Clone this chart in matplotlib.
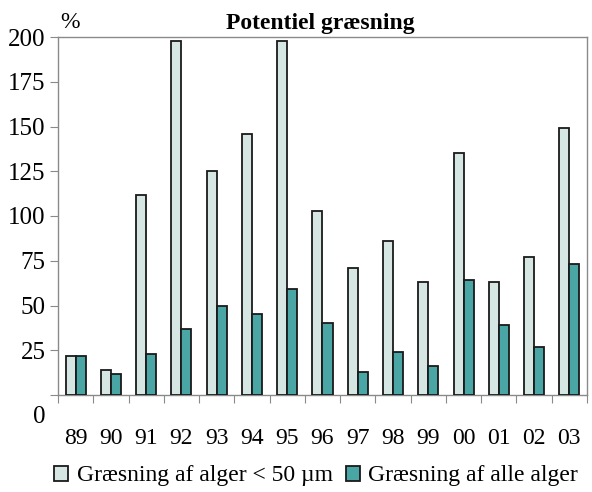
import matplotlib

matplotlib.use("Agg")
import matplotlib.pyplot as plt
import matplotlib.transforms as mtransforms
import numpy as np

years = ["89", "90", "91", "92", "93", "94", "95", "96", "97", "98",
         "99", "00", "01", "02", "03"]
small_algae = [22, 14, 112, 198, 125, 146, 198, 103, 71, 86, 63, 135, 63, 77, 149]
all_algae = [22, 12, 23, 37, 50, 45, 59, 40, 13, 24, 16, 64, 39, 27, 73]
labels = ["Græsning af alger < 50 µm", "Græsning af alle alger"]
y_ticks = [0, 25, 50, 75, 100, 125, 150, 175, 200]

plt.rcParams["font.family"] = ["Liberation Serif", "DejaVu Serif"]

LIGHT = "#d6e7e3"
DARK = "#49a6a5"
EDGE = "#1a1a1a"
GRID = "#8a8a8a"

fig = plt.figure(figsize=(5.92, 4.92), dpi=100)
ax = fig.add_axes([58 / 592, 1 - 395 / 492, 529 / 592, 358 / 492])

x = np.arange(len(years))
w = 0.285
ax.bar(x - w / 2, small_algae, w, color=LIGHT, edgecolor=EDGE, linewidth=1.3,
       label=labels[0], zorder=3)
ax.bar(x + w / 2, all_algae, w, color=DARK, edgecolor=EDGE, linewidth=1.3,
       label=labels[1], zorder=3)

ax.set_xlim(-0.5, len(years) - 0.5)
ax.set_ylim(0, 200)

# category labels centred under each group, tick marks on the boundaries
ax.set_xticks(np.arange(len(years) + 1) - 0.5)
ax.set_xticklabels([])
ax.set_xticks(x, minor=True)
ax.set_xticklabels(years, minor=True, fontsize=17)
ax.tick_params(axis="x", which="major", length=6, color=GRID, direction="out")
ax.tick_params(axis="x", which="minor", length=0, pad=24)

ax.set_yticks(y_ticks)
ax.set_yticklabels([str(v) for v in y_ticks], fontsize=18)
ax.tick_params(axis="y", length=6, color=GRID, pad=3)
# the zero label sits a little below the axis line
zero_lbl = ax.get_yticklabels()[0]
zero_lbl.set_transform(zero_lbl.get_transform() +
                       mtransforms.ScaledTranslation(0, -14 / 72, fig.dpi_scale_trans))

for s in ax.spines.values():
    s.set_color(GRID)
    s.set_linewidth(1.0)

fig.text(60 / 592, 1 - 22 / 492, "%", fontsize=17, ha="left", va="center")
fig.text(320 / 592, 1 - 23 / 492, "Potentiel græsning", fontsize=17,
         fontweight="bold", ha="center", va="center")

fig.legend(loc="center", bbox_to_anchor=(316 / 592, 1 - 476 / 492), ncol=2,
           frameon=False, fontsize=17, handlelength=0.6, handleheight=0.6,
           handletextpad=0.35, columnspacing=0.55, borderaxespad=0,
           borderpad=0)

fig.savefig("out.png", dpi=100)
